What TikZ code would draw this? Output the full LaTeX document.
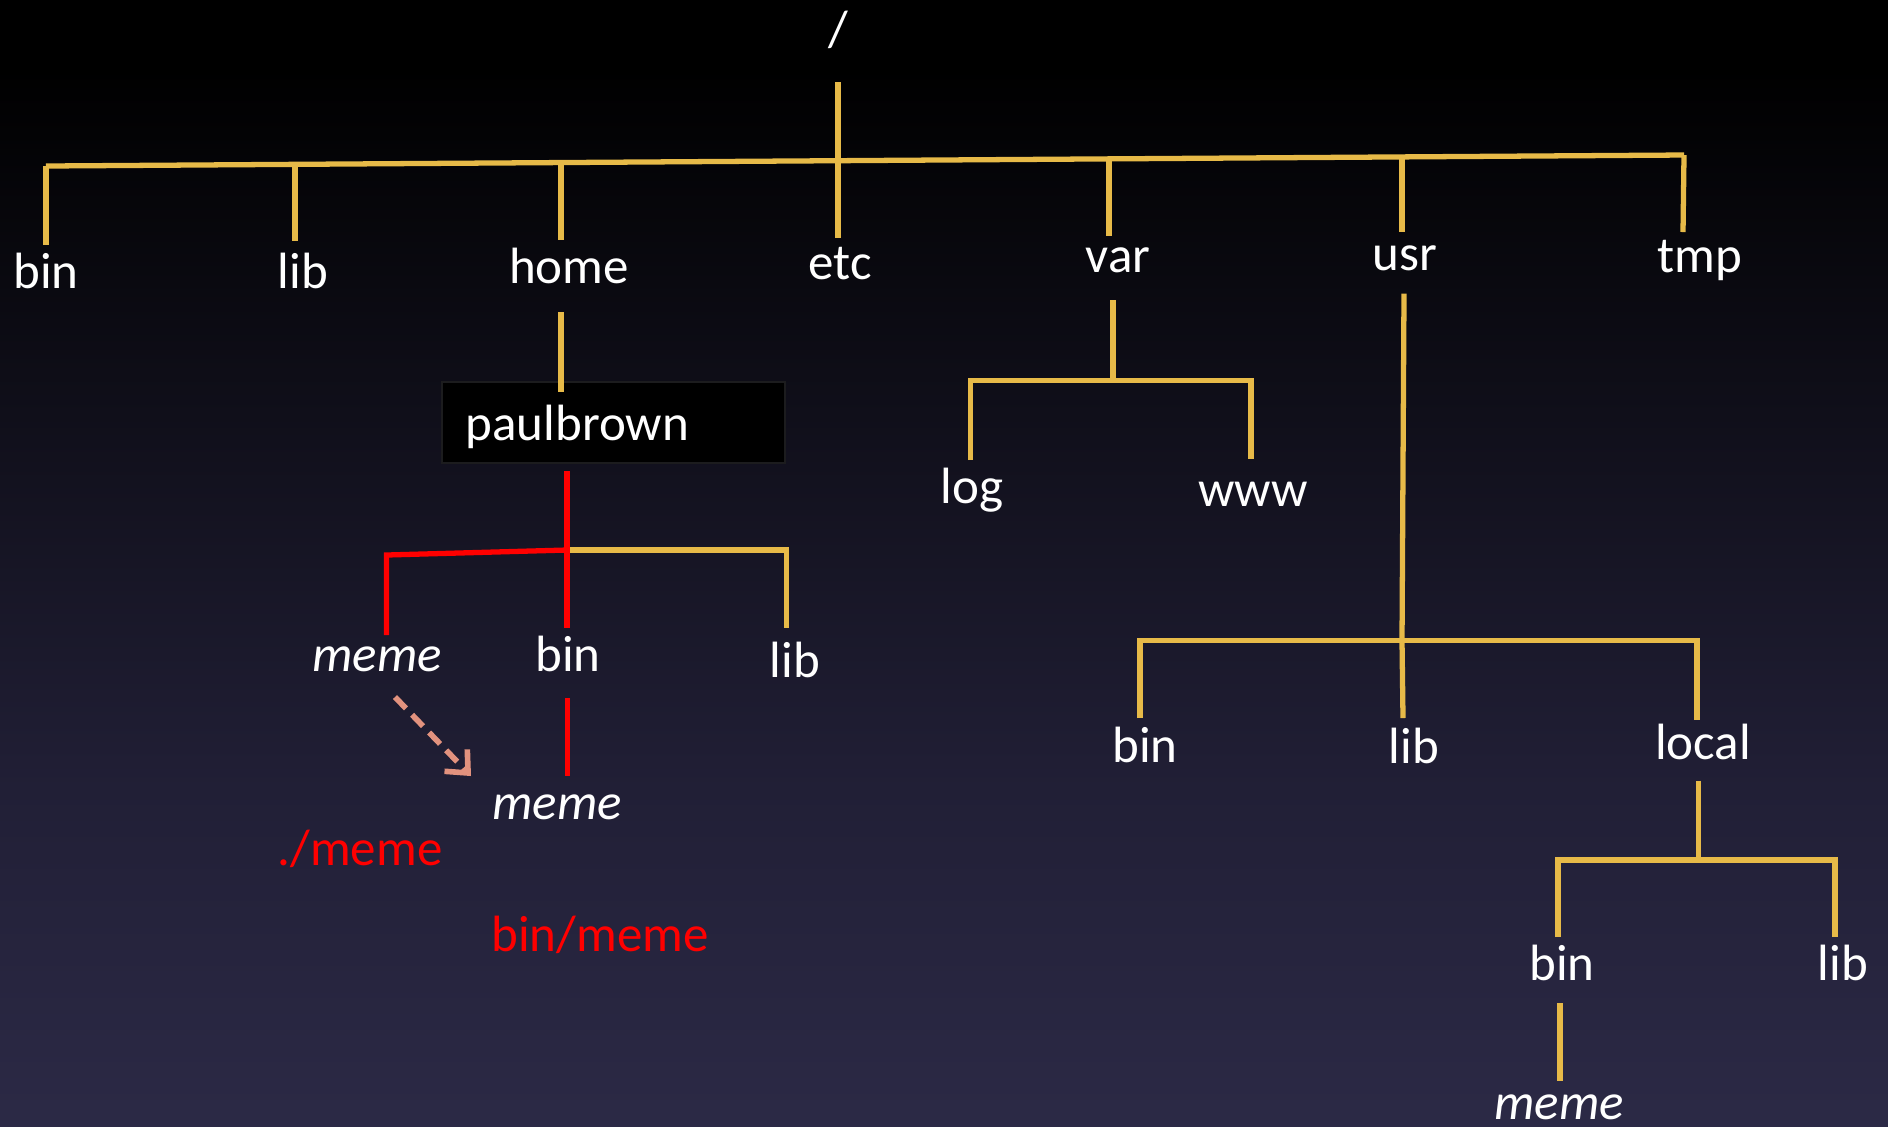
\documentclass[tikz,border=0pt]{standalone}
\usepackage{fontspec}
\setmainfont{Carlito}
\usetikzlibrary{arrows.meta}
\definecolor{treeyel}{RGB}{231,186,72}
\definecolor{treered}{RGB}{255,0,0}
\definecolor{arrowpink}{RGB}{226,146,126}
\definecolor{bgmid}{RGB}{33,31,54}
\definecolor{bglow}{RGB}{47,45,75}
\definecolor{bgbot}{RGB}{62,61,92}
\pgfdeclareverticalshading{bgshade}{100bp}{color(0bp)=(bgbot); color(20bp)=(bglow); color(40bp)=(bgmid); color(72bp)=(black); color(100bp)=(black)}
\begin{document}
\begin{tikzpicture}[x=0.01cm,y=-0.01cm,
  lbl/.style={text=white,font=\fontsize{14.5}{17}\selectfont,anchor=base,inner sep=0pt},
  ilbl/.style={lbl,font=\fontsize{14.5}{17}\selectfont\itshape},
  rlbl/.style={lbl,text=treered},
  yline/.style={draw=treeyel,line width=1.5pt},
  rline/.style={draw=treered,line width=1.5pt},
  linkarrow/.style={draw=arrowpink,line width=1.6pt,dash pattern=on 4.5pt off 2.5pt,-{Straight Barb[length=5pt,width=9pt,line width=1.6pt]}}]
\useasboundingbox (0,0) rectangle (1888,1126);
\shade[shading=bgshade] (0,1126) rectangle (1888,0);

% labels
\node[lbl] (root) at (838,46) {/};
\node[lbl] (bin) at (46,288) {bin};
\node[lbl] (lib) at (303,288) {lib};
\node[lbl] (home) at (569,283) {home};
\node[lbl] (etc) at (840,279) {etc};
\node[lbl] (var) at (1118,272) {var};
\node[lbl] (usr) at (1405,270) {usr};
\node[lbl] (tmp) at (1700,272) {tmp};

\draw[fill=black,draw={rgb,255:red,28;green,28;blue,30},line width=0.6pt] (442,382) rectangle (785,463);
\node[lbl,anchor=base west] (paul) at (465,440) {paulbrown};

\node[ilbl] (meme1) at (377,671) {meme};
\node[lbl] (pbin) at (568,671) {bin};
\node[lbl] (plib) at (795,677) {lib};
\node[ilbl] (meme2) at (557,819) {meme};
\node[rlbl] (dotmeme) at (360,865) {./meme};
\node[rlbl] (binmeme) at (600,951) {bin/meme};

\node[lbl] (log) at (972,503) {log};
\node[lbl] (www) at (1253,506) {www};

\node[lbl] (ubin) at (1145,762) {bin};
\node[lbl] (ulib) at (1414,763) {lib};
\node[lbl] (local) at (1703,759) {local};

\node[lbl] (lbin) at (1562,980) {bin};
\node[lbl] (llib) at (1843,980) {lib};
\node[ilbl] (lmeme) at (1559,1119) {meme};

% junction coordinates
\coordinate (barL) at (46,166);
\coordinate (barR) at (1684,155);
\coordinate (jlib) at (295,164.3);
\coordinate (jhome) at (561,162.5);
\coordinate (jetc) at (838,160.7);
\coordinate (jvar) at (1109,158.9);
\coordinate (jusr) at (1402,156.9);

% top level
\draw[yline] (838,82) -- (jetc);
\draw[yline] (barL) -- (barR);
\draw[yline] (barL) -- (46,245);
\draw[yline] (jlib) -- (295,241);
\draw[yline] (jhome) -- (561,240);
\draw[yline] (jetc) -- (838,238);
\draw[yline] (jvar) -- (1109,236);
\draw[yline] (jusr) -- (1402,232);
\draw[yline] (barR) -- (1683,232);

% home -> paulbrown
\draw[yline] (561,312) -- (561,392);

% paulbrown subtree
\coordinate (pj) at (567,550);
\draw[yline] (pj) -- (786.5,550) -- (786.5,628);
\draw[rline] (567,471) -- (pj);
\draw[rline] (pj) -- (386.6,555) -- (386.6,635);
\draw[rline] (pj) -- (567,628);
\draw[rline] (567.5,698) -- (567.5,776);
\draw[linkarrow] (395,697) -- (471,776);

% var subtree
\coordinate (vj) at (1113,380.5);
\draw[yline] (1113,300) -- (vj);
\draw[yline] (970.5,460) -- (970.5,380.5) -- (1251,380.5) -- (1251,459);

% usr subtree
\coordinate (uj) at (1402,640.7);
\draw[yline] (1404,293.6) -- (uj);
\draw[yline] (1140,718) -- (1140,640.7) -- (1697,640.7) -- (1697,720);
\draw[yline] (uj) -- (1403,718);

% local subtree
\coordinate (lj) at (1698.7,860);
\draw[yline] (1698.7,780.7) -- (lj);
\draw[yline] (1558,937) -- (1558,860) -- (1835,860) -- (1835,937);
\draw[yline] (1560,1003) -- (1560,1081);
\end{tikzpicture}
\end{document}
